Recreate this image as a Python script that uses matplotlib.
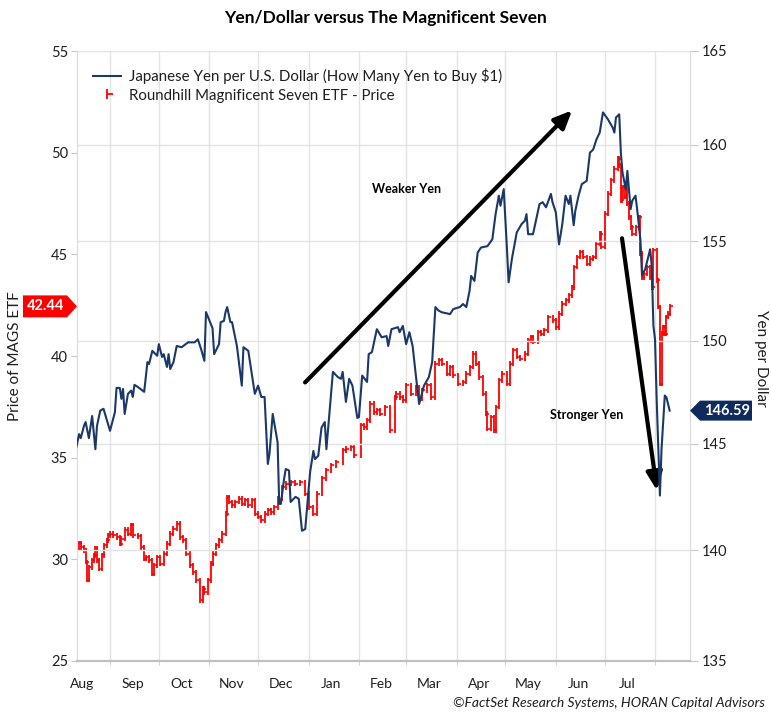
import matplotlib
matplotlib.use("Agg")
import matplotlib.pyplot as plt
import matplotlib.dates as mdates
import matplotlib.ticker as mticker
from matplotlib.lines import Line2D, TICKRIGHT
from matplotlib.legend_handler import HandlerTuple
from matplotlib.patches import Polygon
from matplotlib.transforms import IdentityTransform, blended_transform_factory
import numpy as np
import pandas as pd

plt.rcParams["font.family"] = ["Lato", "DejaVu Sans"]

# --- Japanese yen per U.S. dollar (right axis, log scale) ---
yen_dates = [
    # Aug 2023
    "2023-08-11", "2023-08-13", "2023-08-14", "2023-08-16", "2023-08-17", "2023-08-19",
    "2023-08-21", "2023-08-23", "2023-08-24", "2023-08-26", "2023-08-28",
    # Sep
    "2023-09-01", "2023-09-04", "2023-09-05", "2023-09-07", "2023-09-08", "2023-09-09",
    "2023-09-10", "2023-09-12", "2023-09-14", "2023-09-15", "2023-09-16", "2023-09-18",
    "2023-09-22", "2023-09-24", "2023-09-25", "2023-09-27", "2023-09-30",
    # Oct
    "2023-10-01", "2023-10-03", "2023-10-04", "2023-10-06", "2023-10-07", "2023-10-08",
    "2023-10-10", "2023-10-12", "2023-10-15", "2023-10-19", "2023-10-23", "2023-10-25",
    "2023-10-27", "2023-10-29", "2023-10-30",
    # Nov
    "2023-11-03", "2023-11-04", "2023-11-07", "2023-11-08", "2023-11-10", "2023-11-11",
    "2023-11-12", "2023-11-14", "2023-11-15", "2023-11-18", "2023-11-21", "2023-11-22",
    "2023-11-25", "2023-11-29",
    # Dec
    "2023-12-01", "2023-12-03", "2023-12-05", "2023-12-07", "2023-12-08", "2023-12-10",
    "2023-12-13", "2023-12-14", "2023-12-15", "2023-12-17", "2023-12-18", "2023-12-20",
    "2023-12-21", "2023-12-24", "2023-12-26", "2023-12-28", "2023-12-30",
    # Jan 2024
    "2024-01-02", "2024-01-04", "2024-01-05", "2024-01-07", "2024-01-09", "2024-01-11",
    "2024-01-12", "2024-01-16", "2024-01-19", "2024-01-21", "2024-01-22", "2024-01-24",
    "2024-01-26", "2024-01-28", "2024-01-31",
    # Feb
    "2024-02-01", "2024-02-03", "2024-02-06", "2024-02-07", "2024-02-09", "2024-02-12",
    "2024-02-15", "2024-02-18", "2024-02-19", "2024-02-21", "2024-02-25", "2024-02-26",
    "2024-02-28",
    # Mar
    "2024-03-01", "2024-03-03", "2024-03-05", "2024-03-07", "2024-03-09", "2024-03-12",
    "2024-03-15", "2024-03-17", "2024-03-19", "2024-03-21", "2024-03-23", "2024-03-28",
    "2024-03-30",
    # Apr
    "2024-04-03", "2024-04-05", "2024-04-07", "2024-04-09", "2024-04-10", "2024-04-12",
    "2024-04-14", "2024-04-16", "2024-04-20", "2024-04-23", "2024-04-25", "2024-04-27",
    "2024-04-28", "2024-04-30",
    # May
    "2024-05-02", "2024-05-03", "2024-05-05", "2024-05-08", "2024-05-11", "2024-05-13",
    "2024-05-14", "2024-05-15", "2024-05-18", "2024-05-20", "2024-05-22", "2024-05-24",
    "2024-05-26", "2024-05-29", "2024-05-30",
    # Jun
    "2024-06-01", "2024-06-03", "2024-06-05", "2024-06-07", "2024-06-09", "2024-06-10",
    "2024-06-12", "2024-06-13", "2024-06-15", "2024-06-17", "2024-06-20", "2024-06-22",
    "2024-06-24", "2024-06-26", "2024-06-28", "2024-06-30",
    # Jul
    "2024-07-03", "2024-07-06", "2024-07-07", "2024-07-08", "2024-07-10", "2024-07-11",
    "2024-07-12", "2024-07-14", "2024-07-15", "2024-07-17", "2024-07-18", "2024-07-20",
    "2024-07-21", "2024-07-23", "2024-07-24", "2024-07-26", "2024-07-27", "2024-07-29",
    "2024-07-30", "2024-07-31",
    # Aug 2024
    "2024-08-01", "2024-08-02", "2024-08-04", "2024-08-05", "2024-08-07", "2024-08-08",
    "2024-08-10",
]
yen_values = [
    144.74, 145.46, 145.27, 145.86, 146.04, 145.27, 146.33, 144.74, 145.86, 146.59, 146.68,
    145.62, 146.51, 147.69, 147.69, 147.16, 147.64, 146.43, 147.40, 147.56, 147.25, 147.84,
    147.74, 147.50, 148.95, 148.86, 149.50, 149.26,
    149.83, 149.20, 149.34, 148.71, 149.34, 148.61, 148.95, 149.74, 149.68, 149.92, 149.92,
    150.07, 149.58, 149.01, 151.42,
    150.62, 149.34, 149.83, 150.92, 150.98, 151.42, 151.67, 150.92, 150.92, 149.74, 147.80,
    149.68, 149.50, 147.40,
    147.80, 147.25, 147.25, 144.04, 144.51, 146.43, 145.07, 142.16, 142.16, 143.34, 143.80,
    143.73, 142.25, 142.49, 142.40, 140.91, 140.99,
    143.66, 144.66, 144.27, 144.43, 145.77, 146.04, 144.74, 148.47, 148.22, 148.13, 148.47,
    147.01, 148.13, 147.80, 146.24,
    146.28, 148.29, 147.98, 149.34, 149.44, 150.57, 150.17, 150.23, 149.74, 150.57, 150.67,
    150.42, 150.73,
    149.83, 150.42, 149.74, 148.29, 146.91, 147.80, 148.22, 148.95, 151.67, 151.49, 151.41,
    151.32, 151.57,
    151.67, 151.82, 151.67, 152.48, 153.23, 152.98, 154.41, 154.67, 154.74, 155.09, 156.38,
    157.33, 156.81, 157.67,
    154.58, 152.91, 154.08, 155.44, 155.87, 156.04, 156.38, 155.35, 155.35, 156.13, 156.90,
    156.99, 156.73, 157.42, 156.99,
    156.48, 154.83, 155.86, 157.33, 156.90, 157.33, 155.81, 156.55, 157.33, 157.93, 158.10,
    159.57, 159.74, 160.27, 160.63, 161.70,
    161.34, 160.89, 160.63, 161.43, 161.60, 159.57, 158.53, 157.67, 158.62, 156.64, 157.07,
    157.33, 156.64, 155.09, 153.25, 153.58, 153.92, 154.58, 153.75, 150.74,
    150.07, 147.16, 142.55, 144.74, 147.32, 147.24, 146.59,
]

# --- Roundhill Magnificent Seven ETF price (left axis) ---
mags_dates = [
    "2023-08-12", "2023-08-13", "2023-08-14", "2023-08-16", "2023-08-17", "2023-08-18",
    "2023-08-19", "2023-08-21", "2023-08-22", "2023-08-23", "2023-08-24", "2023-08-25",
    "2023-08-27", "2023-08-28", "2023-08-30", "2023-08-31",
    "2023-09-01", "2023-09-03", "2023-09-05", "2023-09-07", "2023-09-08", "2023-09-10",
    "2023-09-12", "2023-09-14", "2023-09-15", "2023-09-18", "2023-09-20", "2023-09-22",
    "2023-09-23", "2023-09-25", "2023-09-27", "2023-09-28", "2023-09-30",
    "2023-10-02", "2023-10-04", "2023-10-06", "2023-10-08", "2023-10-10", "2023-10-12",
    "2023-10-14", "2023-10-16", "2023-10-18", "2023-10-20", "2023-10-22", "2023-10-24",
    "2023-10-26", "2023-10-28", "2023-10-29", "2023-10-31",
    "2023-11-02", "2023-11-03", "2023-11-05", "2023-11-07", "2023-11-09", "2023-11-11",
    "2023-11-12", "2023-11-13", "2023-11-15", "2023-11-17", "2023-11-19", "2023-11-21",
    "2023-11-23", "2023-11-25", "2023-11-27", "2023-11-29",
    "2023-12-01", "2023-12-03", "2023-12-05", "2023-12-07", "2023-12-09", "2023-12-11",
    "2023-12-13", "2023-12-16", "2023-12-18", "2023-12-21", "2023-12-24", "2023-12-27",
    "2023-12-30",
    "2024-01-01", "2024-01-04", "2024-01-06", "2024-01-09", "2024-01-12", "2024-01-15",
    "2024-01-18", "2024-01-22", "2024-01-24", "2024-01-27", "2024-01-29",
    "2024-02-02", "2024-02-04", "2024-02-06", "2024-02-08", "2024-02-10", "2024-02-12",
    "2024-02-14", "2024-02-17", "2024-02-20", "2024-02-23", "2024-02-24", "2024-02-26",
    "2024-02-28",
    "2024-03-01", "2024-03-04", "2024-03-07", "2024-03-09", "2024-03-11", "2024-03-14",
    "2024-03-16", "2024-03-19", "2024-03-21", "2024-03-23", "2024-03-26", "2024-03-28",
    "2024-03-30",
    "2024-04-02", "2024-04-05", "2024-04-07", "2024-04-09", "2024-04-11", "2024-04-13",
    "2024-04-15", "2024-04-17", "2024-04-19", "2024-04-20", "2024-04-22", "2024-04-24",
    "2024-04-25", "2024-04-27", "2024-04-29",
    "2024-05-02", "2024-05-04", "2024-05-06", "2024-05-08", "2024-05-10", "2024-05-13",
    "2024-05-15", "2024-05-17", "2024-05-18", "2024-05-21", "2024-05-23", "2024-05-25",
    "2024-05-27", "2024-05-30",
    "2024-06-01", "2024-06-03", "2024-06-05", "2024-06-07", "2024-06-09", "2024-06-11",
    "2024-06-12", "2024-06-14", "2024-06-16", "2024-06-18", "2024-06-20", "2024-06-22",
    "2024-06-24", "2024-06-26", "2024-06-28", "2024-06-29",
    "2024-07-01", "2024-07-03", "2024-07-05", "2024-07-07", "2024-07-09", "2024-07-10",
    "2024-07-11", "2024-07-12", "2024-07-13", "2024-07-14", "2024-07-15", "2024-07-16",
    "2024-07-17", "2024-07-18", "2024-07-20", "2024-07-22", "2024-07-23", "2024-07-24",
    "2024-07-25", "2024-07-27", "2024-07-29", "2024-07-30", "2024-07-31",
    "2024-08-02", "2024-08-03", "2024-08-04", "2024-08-05", "2024-08-06", "2024-08-07",
    "2024-08-08", "2024-08-09", "2024-08-10",
]
mags_close = [
    30.52, 30.78, 30.60, 30.44, 29.87, 29.00, 29.62, 29.95, 30.19, 30.52, 29.95, 29.54,
    30.19, 30.69, 30.93, 31.18,
    31.26, 31.18, 31.09, 30.77, 31.02, 31.46, 31.26, 31.67, 31.18, 31.13, 30.60, 30.03,
    30.11, 29.95, 29.29, 29.70, 30.11,
    29.79, 30.28, 30.77, 31.26, 31.51, 31.75, 31.09, 30.93, 30.28, 29.70, 29.37, 28.96,
    27.98, 28.56, 28.39, 28.96,
    29.79, 30.28, 30.69, 30.93, 31.26, 32.25, 33.06, 32.82, 32.65, 32.82, 32.98, 32.74,
    32.90, 32.65, 32.90, 32.25,
    32.08, 31.92, 32.25, 32.41, 32.32, 32.57, 32.98, 33.55, 33.72, 33.80, 33.72, 33.80,
    33.23,
    32.57, 32.25, 33.23, 33.98, 34.38, 34.62, 34.77, 35.36, 35.44, 35.52, 35.11,
    36.59, 36.50, 36.83, 37.66, 37.24, 37.33, 37.16, 37.49, 36.34, 37.98, 38.15, 37.98,
    37.82,
    38.56, 38.15, 38.47, 37.90, 38.31, 38.56, 37.98, 39.62, 39.79, 39.62, 39.13, 39.46,
    39.05,
    38.64, 38.72, 39.13, 39.46, 40.12, 39.62, 38.96, 38.15, 37.16, 36.43, 37.00, 36.34,
    37.49, 38.80, 39.13,
    38.64, 39.62, 40.28, 39.95, 39.87, 40.12, 40.77, 40.93, 40.69, 41.18, 41.10, 41.26,
    41.92, 41.75,
    41.42, 42.08, 42.58, 42.74, 42.98, 43.39, 44.38, 44.87, 45.11, 44.87, 44.54, 44.79,
    44.87, 45.53, 46.02, 45.36,
    47.00, 47.99, 48.64, 49.22, 49.71, 49.38, 47.66, 48.31, 47.82, 48.48, 47.49, 46.83,
    46.34, 46.02, 46.34, 46.83, 45.03, 43.88, 44.05, 44.38, 43.88, 43.39, 45.20,
    43.72, 42.41, 38.64, 41.10, 41.42, 41.10, 41.92, 42.08, 42.44,
]

mags_ticks = [25, 30, 35, 40, 45, 50, 55]
yen_ticks = [135, 140, 145, 150, 155, 160, 165]
last_mags = 42.44
last_yen = 146.59

NAVY = "#1a3868"
RED = "#ff0000"
GRID = "#e3e3e3"
TXT = "#1e1e1e"

fig = plt.figure(figsize=(7.71, 7.14), dpi=100)
ax = fig.add_axes([77 / 771, 53 / 714, 613 / 771, 610 / 714])
ax2 = ax.twinx()

# MAGS price drawn as bars with close ticks
md = pd.to_datetime(mags_dates)
mags = np.array(mags_close)
prev = np.r_[mags[0], mags[:-1]]
ax.vlines(md, np.minimum(prev, mags) - 0.12, np.maximum(prev, mags) + 0.12,
          color=RED, lw=1.3, zorder=3)
ax.plot(md, mags, ls="none", marker=TICKRIGHT, ms=2.5, mew=1.2, color=RED, zorder=3)

yd = pd.to_datetime(yen_dates)
ax2.plot(yd, yen_values, color=NAVY, lw=1.5, zorder=4)

# axes scales
ax.set_ylim(25, 55)
ax.set_yticks(mags_ticks)
ax2.set_yscale("log")
ax2.set_ylim(135, 165)
ax2.yaxis.set_major_locator(mticker.FixedLocator(yen_ticks))
ax2.yaxis.set_minor_locator(mticker.NullLocator())
ax2.yaxis.set_major_formatter(mticker.FormatStrFormatter("%d"))

sep1 = mdates.date2num(pd.Timestamp("2023-09-01"))
ax.set_xlim(sep1 - 20.3, sep1 + 356.5)
# month names sit mid-month, Aug 2023 .. Jul 2024; gridlines at month starts
label_days = pd.date_range("2023-08-01", periods=12, freq="MS") + pd.Timedelta(days=14)
ax.set_xticks(mdates.date2num(label_days))
ax.xaxis.set_major_formatter(mdates.DateFormatter("%b"))
ax.xaxis.set_minor_locator(mdates.MonthLocator())
ax.tick_params(axis="x", which="major", length=0, pad=12, labelsize=10, labelcolor=TXT)
ax.tick_params(axis="x", which="minor", length=3, color="#c8c8c8")
ax.tick_params(axis="y", length=4, color="#c8c8c8", pad=2.5, labelsize=10.5, labelcolor=TXT)
ax2.tick_params(axis="y", length=6, color="#c8c8c8", pad=2.5, labelsize=10.5, labelcolor=TXT)

ax.grid(axis="x", which="minor", color=GRID, lw=1)
ax2.grid(axis="y", which="major", color=GRID, lw=1, zorder=0)
ax.set_axisbelow(True)

for a in (ax, ax2):
    a.spines["top"].set_visible(False)
    a.spines["left"].set_color("#dcdcdc")
    a.spines["right"].set_color("#dcdcdc")
    a.spines["bottom"].set_color("#c0c0c0")
    a.spines["bottom"].set_linewidth(1.5)

# legend
h_yen = Line2D([], [], color=NAVY, lw=1.5)
h_mags = (Line2D([], [], color=RED, marker="|", ls="none", ms=7, mew=1.3),
          Line2D([], [], color=RED, marker=TICKRIGHT, ls="none", ms=4, mew=1.3))
ax2.legend([h_yen, h_mags],
           ["Japanese Yen per U.S. Dollar (How Many Yen to Buy $1)",
            "Roundhill Magnificent Seven ETF - Price"],
           handler_map={tuple: HandlerTuple(ndivide=1, pad=0)},
           loc="upper left", bbox_to_anchor=(0.026, 0.972), borderaxespad=0,
           borderpad=0, frameon=False, fontsize=10.8, handlelength=1.9,
           handletextpad=0.5, labelspacing=0.3, labelcolor=TXT)

# annotations (arrows and labels)
arrow_kw = dict(arrowstyle="-|>,head_length=0.9,head_width=0.4", lw=3.0,
                color="black", shrinkA=0, shrinkB=0, mutation_scale=12)
ax2.annotate("", xy=(sep1 + 284, 52.08), xytext=(sep1 + 119.9, 38.70),
             xycoords=ax.transData, textcoords=ax.transData, arrowprops=arrow_kw)
ax2.annotate("", xy=(sep1 + 336.2, 33.39), xytext=(sep1 + 314.7, 45.79),
             xycoords=ax.transData, textcoords=ax.transData, arrowprops=arrow_kw)
ax.text(sep1 + 182.5, 48.2, "Weaker Yen", ha="center", va="center",
        fontsize=9, fontweight="bold", color="black")
ax.text(sep1 + 293.2, 37.08, "Stronger Yen", ha="center", va="center",
        fontsize=9, fontweight="bold", color="black", zorder=6)

# last-value tags on both axes
ident = IdentityTransform()
lx, ly = blended_transform_factory(ax.transAxes, ax.transData).transform((0, last_mags))
fig.add_artist(Polygon([(lx - 54, ly - 11), (lx - 10, ly - 11), (lx, ly),
                        (lx - 10, ly + 11), (lx - 54, ly + 11)],
                       closed=True, transform=ident, facecolor=RED, edgecolor="none"))
fig.text(lx - 31, ly, f"{last_mags:.2f}", transform=ident, ha="center", va="center",
         color="white", fontsize=10.5, fontweight="bold")
rx, ry = blended_transform_factory(ax2.transAxes, ax2.transData).transform((1, last_yen))
fig.add_artist(Polygon([(rx, ry), (rx + 10, ry - 10), (rx + 62, ry - 10),
                        (rx + 62, ry + 10), (rx + 10, ry + 10)],
                       closed=True, transform=ident, facecolor="#0f2a5c", edgecolor="none"))
fig.text(rx + 37, ry, f"{last_yen:.2f}", transform=ident, ha="center", va="center",
         color="white", fontsize=10.5, fontweight="bold")

# titles and labels
fig.text(385 / 771, 1 - 18 / 714, "Yen/Dollar versus The Magnificent Seven",
         ha="center", va="center", fontsize=12.5, fontweight="bold", color="black")
fig.text(15 / 771, 1 - 356 / 714, "Price of MAGS ETF", rotation=90,
         ha="center", va="center", fontsize=11, color=TXT)
fig.text(761 / 771, 1 - 358 / 714, "Yen per Dollar", rotation=270,
         ha="center", va="center", fontsize=11, color=TXT)
fig.text(765 / 771, 1 - 703 / 714, "\u00a9FactSet Research Systems, HORAN Capital Advisors",
         ha="right", va="center", fontsize=10, style="italic", color=TXT)

fig.savefig("out.png", dpi=100)
